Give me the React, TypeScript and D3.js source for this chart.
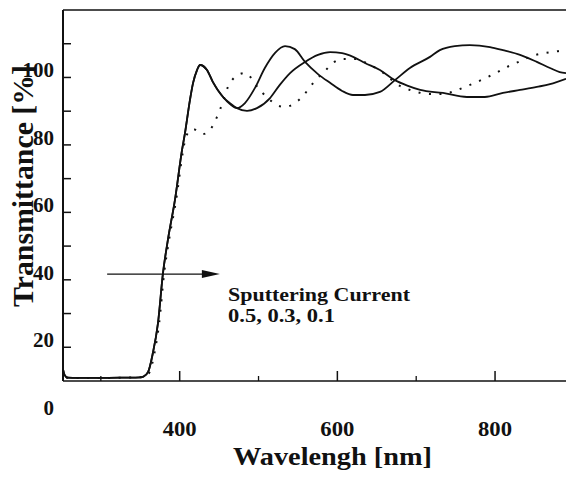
import React from "react";
import * as d3 from "d3";

const W = 566;
const H = 478;

// axis ticks
const xMajorTicks = [400, 600, 800];
const xMinorTicks = [300, 500, 700];
const yTicks = [10, 20, 30, 40, 50, 60, 70, 80, 90, 100];
const yLabels = [0, 20, 40, 60, 80, 100];

// Series 1 (solid, peaks ~530 and ~770 nm)
const wl1 = [252, 254, 258, 270, 300, 330, 350, 354, 360, 366, 372.5, 378.8, 385, 394, 403, 406.7, 413, 417, 422, 425.8, 434.6, 442, 455, 463.8, 472.7, 482.8, 495.5, 508, 521, 533.6, 546, 559, 575.4, 590.7, 606, 619.8, 635, 654, 673, 692, 717.5, 730, 749, 768, 793.6, 810, 831.7, 853, 869.7, 882, 890];
const tr1 = [3.5, 1.8, 1.0, 0.9, 0.9, 1.0, 1.1, 1.3, 2.7, 8.3, 17.2, 32, 41.8, 53.7, 68.5, 73.5, 83.3, 88.4, 92.2, 93.7, 92.2, 88.7, 84.2, 82.1, 80.9, 82.4, 86.9, 92.8, 97.3, 99.3, 98.4, 94.6, 91, 88.4, 86, 84.8, 84.8, 85.7, 89.2, 92.8, 96.1, 98.1, 99.3, 99.6, 99, 98.1, 96.7, 94.6, 92.8, 91.6, 91.3];

// Series 2 (solid, peak ~590 nm)
const wl2 = [252, 254, 258, 270, 300, 330, 350, 354, 360, 366, 372.5, 378.8, 385, 394, 403, 406.7, 413, 417, 422, 425.8, 434.6, 442, 455, 463.8, 472.7, 485.4, 498, 514.6, 527, 540, 559, 575.4, 590.7, 606, 620, 635, 654, 673, 689.6, 705, 734, 764.4, 787, 810, 831.7, 853, 869.7, 890];
const tr2 = [3.5, 1.8, 1.0, 0.9, 0.9, 1.0, 1.1, 1.3, 2.7, 8.3, 17.2, 32, 41.8, 53.7, 68.5, 73.5, 83.3, 88.4, 92.2, 93.7, 92.2, 88.7, 84.2, 82.4, 80.9, 80.1, 80.9, 83.9, 87.8, 91.3, 94.6, 96.7, 97.5, 97.2, 96.1, 94.3, 92.2, 89.2, 87.5, 86.3, 85.4, 84.2, 84.2, 85.4, 86.3, 87.2, 88, 89.6];

// Series 3 (dotted)
const wl3 = [256, 270, 300, 330, 352, 356, 362, 368, 374, 380.3, 386.5, 395.5, 404.5, 408, 417, 429.6, 441, 447.3, 452.4, 461.3, 470, 482.8, 491.7, 499.3, 510.7, 521, 533.6, 546, 556.4, 565.3, 574, 584.3, 594.5, 607, 622.4, 639, 656.6, 679.4, 692, 706, 720, 734, 749, 762, 774.6, 788.5, 801, 815, 826.6, 852, 864.6, 880, 890];
const tr3 = [1.0, 0.9, 0.9, 1.0, 1.1, 1.3, 2.7, 8.3, 17.2, 32, 41.8, 53.7, 68.5, 72.5, 74.7, 73.2, 75.3, 78.3, 81.2, 87.2, 90.1, 91.3, 89.6, 86.9, 84.2, 82.1, 81.2, 82.4, 84.5, 87.2, 89.6, 91.9, 94.3, 95.5, 95.5, 94, 91.6, 87.5, 86.3, 85.4, 85.1, 85.1, 86, 87.2, 88.4, 89.9, 91.3, 93.1, 94.3, 96.7, 97.3, 97.8, 98.1];

// annotation
const annotationLines = ["Sputtering Current", "0.5, 0.3, 0.1"];
const arrowFrom = [308, 31.7];
const arrowTo = [451, 31.7];
const annotationAt = [461.3, 0];

const FONT = "'Liberation Serif', 'Times New Roman', serif";

export default function App() {
  const x = d3.scaleLinear().domain([252, 890]).range([63, 566]);
  const y = d3.scaleLinear().domain([0, 110]).range([381, 10]);

  const line = d3
    .line<[number, number]>()
    .x((d) => x(d[0]))
    .y((d) => y(d[1]))
    .curve(d3.curveMonotoneX);

  const s1 = line(wl1.map((w, i) => [w, tr1[i]] as [number, number])) || "";
  const s2 = line(wl2.map((w, i) => [w, tr2[i]] as [number, number])) || "";
  const s3 = line(wl3.map((w, i) => [w, tr3[i]] as [number, number])) || "";

  const x0 = x.range()[0];
  const x1 = x.range()[1];
  const yb = y.range()[0];
  const yt = y.range()[1];

  const ay = y(arrowFrom[1]);
  const ax0 = x(arrowFrom[0]);
  const ax1 = x(arrowTo[0]);
  const tx = x(annotationAt[0]);

  return (
    <svg
      width={W}
      height={H}
      viewBox={`0 0 ${W} ${H}`}
      style={{ position: "absolute", left: 0, top: 0, background: "#fff" }}
    >
      <rect x={0} y={0} width={W} height={H} fill="#fff" />
      {/* frame */}
      <line x1={x0} y1={yt} x2={x1} y2={yt} stroke="#111" strokeWidth={1.6} />
      <line x1={x0} y1={yt} x2={x0} y2={yb} stroke="#111" strokeWidth={2} />
      <line x1={x0} y1={yb} x2={x1} y2={yb} stroke="#111" strokeWidth={1.6} />

      {/* y ticks */}
      {yTicks.map((t) => (
        <line key={"yt" + t} x1={x0} x2={x0 + 8} y1={y(t)} y2={y(t)} stroke="#111" strokeWidth={1.5} />
      ))}
      {/* x ticks */}
      {xMajorTicks.map((t) => (
        <line key={"xM" + t} x1={x(t)} x2={x(t)} y1={yb} y2={yb - 10} stroke="#111" strokeWidth={1.5} />
      ))}
      {xMinorTicks.map((t) => (
        <line key={"xm" + t} x1={x(t)} x2={x(t)} y1={yb} y2={yb - 5} stroke="#111" strokeWidth={1.3} />
      ))}

      {/* curves */}
      <path d={s1} fill="none" stroke="#111" strokeWidth={1.8} />
      <path d={s2} fill="none" stroke="#111" strokeWidth={1.8} />
      <path d={s3} fill="none" stroke="#111" strokeWidth={2} strokeDasharray="2 8.5" />

      {/* y labels */}
      {yLabels.map((v) => (
        <text
          key={"yl" + v}
          x={54}
          y={y(v) + 26.5 + 7}
          textAnchor="end"
          fontFamily={FONT}
          fontWeight="bold"
          fontSize={21}
          fill="#111"
        >
          {v}
        </text>
      ))}
      {/* x labels */}
      {xMajorTicks.map((v) => (
        <text
          key={"xl" + v}
          x={x(v)}
          y={436}
          textAnchor="middle"
          fontFamily={FONT}
          fontWeight="bold"
          fontSize={21}
          textLength={34}
          lengthAdjust="spacingAndGlyphs"
          fill="#111"
        >
          {v}
        </text>
      ))}

      {/* axis titles */}
      <text
        x={332.5}
        y={465}
        textAnchor="middle"
        fontFamily={FONT}
        fontWeight="bold"
        fontSize={26}
        textLength={199}
        lengthAdjust="spacingAndGlyphs"
        fill="#111"
      >
        Wavelengh [nm]
      </text>
      <text
        transform="translate(33,186) rotate(-90)"
        textAnchor="middle"
        fontFamily={FONT}
        fontWeight="bold"
        fontSize={29}
        textLength={242}
        lengthAdjust="spacingAndGlyphs"
        fill="#111"
      >
        Transmittance [%]
      </text>

      {/* annotation */}
      <line x1={ax0} y1={ay} x2={ax1 - 16} y2={ay} stroke="#111" strokeWidth={1.3} />
      <path d={`M${ax1},${ay} L${ax1 - 18},${ay - 4} L${ax1 - 18},${ay + 4} Z`} fill="#111" />
      <text x={tx} y={301} fontFamily={FONT} fontWeight="bold" fontSize={19} textLength={182} lengthAdjust="spacingAndGlyphs" fill="#111">
        {annotationLines[0]}
      </text>
      <text x={tx} y={322} fontFamily={FONT} fontWeight="bold" fontSize={19} textLength={107} lengthAdjust="spacingAndGlyphs" fill="#111">
        {annotationLines[1]}
      </text>
    </svg>
  );
}
